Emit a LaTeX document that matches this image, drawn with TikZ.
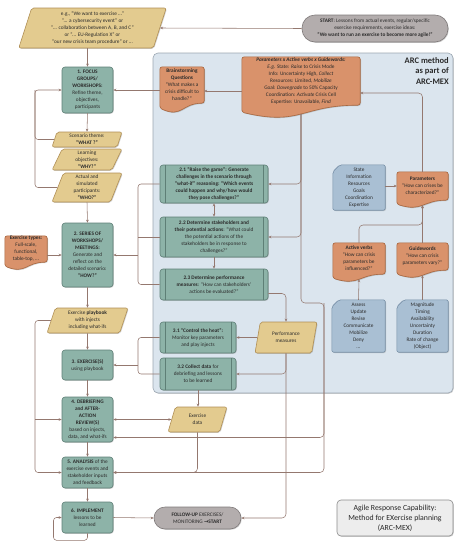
\documentclass[tikz,border=0pt]{standalone}
\usepackage{fontspec}
\setmainfont{Carlito}
\newfontfamily\dejavu{DejaVu Sans}
\usetikzlibrary{shapes.geometric,shapes.misc,arrows.meta,calc,shadows}
\definecolor{tealF}{HTML}{8DB3A8}
\definecolor{tealD}{HTML}{5E7F76}
\definecolor{tanF}{HTML}{E3CB8F}
\definecolor{tanD}{HTML}{B08F55}
\definecolor{orF}{HTML}{D9926B}
\definecolor{orD}{HTML}{A8673F}
\definecolor{blF}{HTML}{A9BFD3}
\definecolor{blD}{HTML}{7890A8}
\definecolor{arcF}{HTML}{DBE5EE}
\definecolor{arcD}{HTML}{9BA6B1}
\definecolor{gryF}{HTML}{B3ADAD}
\definecolor{gryD}{HTML}{7F7A7A}
\definecolor{lnC}{HTML}{94786F}
\definecolor{txt}{HTML}{2B2B2B}
\pgfdeclarelayer{back}
\pgfdeclarelayer{mid}
\pgfsetlayers{back,mid,main}
\newcommand\fs{\fontsize{5.3}{7}\selectfont}
\newcommand\docshape[2]{%
  \path[docsty] ($(#1.south west)+(0,#2)$) -- (#1.north west) -- (#1.north east) -- (#1.south east)
    .. controls (#1.south) and ($(#1.south)+(0,3*#2)$) .. ($(#1.south west)+(0,#2)$) -- cycle;
  \coordinate (#1-b) at ($(#1.south)+(0,1.25*#2)$);}
\newcommand\chamshape[1]{%
  \path[bluesty] ($(#1.north west)+(7,0)$) -- (#1.north east) -- (#1.south east) -- (#1.south west) -- ($(#1.north west)+(0,7)$) -- cycle;}
\tikzset{
  shd/.style={drop shadow={shadow xshift=0.8pt,shadow yshift=-0.8pt,opacity=0.3,fill=black!60}},
  base/.style={font=\fs, text=txt, align=center, inner sep=0pt},
  tealbox/.style={base, rectangle, draw=tealD, fill=tealF, rounded corners=3pt, line width=0.6pt, shd},
  procbox/.style={tealbox, path picture={\draw[tealD,line width=0.5pt]
      ([xshift=5pt]path picture bounding box.north west) -- ([xshift=5pt]path picture bounding box.south west)
      ([xshift=-5pt]path picture bounding box.north east) -- ([xshift=-5pt]path picture bounding box.south east);}},
  para/.style={base, trapezium, trapezium left angle=75, trapezium right angle=105, trapezium stretches=true,
      draw=tanD, fill=tanF, rounded corners=2pt, line width=0.6pt, shd},
  docnode/.style={base, rectangle},
  docsty/.style={fill=orF, draw=orD, line width=0.6pt, rounded corners=2.5pt, shd},
  bluesty/.style={fill=blF, draw=blD, line width=0.6pt, rounded corners=2pt, shd},
  stad/.style={base, rectangle, draw=gryD, fill=gryF, line width=0.6pt, shd},
  conn/.style={draw=lnC, line width=0.55pt},
  arr/.style={conn, -{Stealth[length=3pt,width=2.6pt]}},
  darr/.style={conn, {Stealth[length=3pt,width=2.6pt]}-{Stealth[length=3pt,width=2.6pt]}},
}
\begin{document}
\begin{tikzpicture}[x=1pt,y=-1pt]
\useasboundingbox (0,0) rectangle (458,550);
\begin{pgfonlayer}{back}
\node[draw=arcD, fill=arcF, rounded corners=5pt, line width=0.6pt, minimum width=300pt, minimum height=340pt, shd] (arc) at (303,223) {};
\end{pgfonlayer}
\node[font=\fontsize{8.5}{10.5}\selectfont\bfseries, text=txt, align=right, anchor=north east, inner sep=0pt] (arctitle) at (449,57) {ARC method\\as part of\\ARC-MEX};

% top row
\node[para, minimum width=149pt, minimum height=40pt] (top) at (92.5,28) {e.g., “We want to exercise ...”\\“... a cybersecurity event” or\\“... collaboration between A, B, and C”\\or “... EU-Regulation X” or\\“our new crisis team procedure” or ...};
\node[stad, rounded corners=13pt, minimum width=146pt, minimum height=27pt] (start) at (375,28.5) {\textbf{START}: Lessons from actual events, regular/specific\\exercise requirements, exercise ideas:\\\textbf{“We want to run an exercise to become more agile!”}};

% left column
\node[tealbox, minimum width=51pt, minimum height=46pt] (focus) at (87.5,90) {\textbf{1. FOCUS}\\\textbf{GROUPS/}\\\textbf{WORKSHOPS:}\\Refine theme,\\objectives,\\participants};
\node[para, minimum width=70pt, minimum height=15pt] (theme) at (87,139.5) {Scenario theme:\\\textbf{“WHAT ?”}};
\node[para, minimum width=70pt, minimum height=21pt] (learn) at (87,159.5) {Learning\\objectives:\\\textbf{“WHY?”}};
\node[para, minimum width=70pt, minimum height=29pt] (part) at (87,187.5) {Actual and\\simulated\\participants:\\\textbf{“WHO?”}};
\node[tealbox, minimum width=51pt, minimum height=64pt] (series) at (87.5,255) {\textbf{2. SERIES OF}\\\textbf{WORKSHOPS/}\\\textbf{MEETINGS:}\\Generate and\\reflect on the\\detailed scenario:\\\textbf{“HOW?”}};
\node[docnode, minimum width=42pt, minimum height=26pt] (extypes) at (26,249) {\textbf{Exercise types:}\\Full-scale,\\functional,\\table-top, ...};
\node[para, minimum width=81pt, minimum height=25pt] (play) at (87.5,320.5) {Exercise \textbf{playbook}\\with injects\\including what-ifs};
\node[tealbox, minimum width=51pt, minimum height=30pt] (exer) at (87.5,365) {\textbf{3. EXERCISE(S)}\\using playbook};
\node[tealbox, minimum width=51pt, minimum height=45pt] (debrief) at (87.5,419.5) {\textbf{4. DEBRIEFING}\\\textbf{and AFTER-}\\\textbf{ACTION}\\\textbf{REVIEW(S)}\\based on injects,\\data, and what-ifs};
\node[tealbox, minimum width=51pt, minimum height=31pt] (analysis) at (87.5,472.5) {\textbf{5. ANALYSIS} of the\\exercise events and\\stakeholder inputs\\and feedback};
\node[tealbox, minimum width=51pt, minimum height=31pt] (impl) at (87.5,517.5) {\textbf{6. IMPLEMENT}\\lessons to be\\learned};
\node[stad, rounded corners=11pt, minimum width=87pt, minimum height=22pt] (follow) at (197.5,518) {\textbf{FOLLOW-UP} EXERCISES/\\MONITORING \textbf{{\dejavu →}START}};
\node[base, draw=black!45, fill=black!7, rounded corners=4pt, line width=0.6pt, minimum width=116pt, minimum height=36pt, font=\fontsize{7.8}{10}\selectfont, text=black!85, shd] (titlebox) at (395,518) {Agile Response Capability:\\Method for EXercise planning\\(ARC-MEX)};

% ARC method
\node[docnode, minimum width=44pt, minimum height=36pt] (brain) at (182,85) {\textbf{Brainstorming}\\\textbf{Questions}\\“What makes a\\crisis difficult to\\handle?”};
\node[docnode, minimum width=118pt, minimum height=48pt] (bigdoc) at (301,81) {\textbf{\textit{Parameters x Active verbs x Guidewords:}}\\\textit{E.g.} State: \textit{Raise} to Crisis Mode\\Info: Uncertainty High, \textit{Collect}\\Resources: Limited, \textit{Mobilize}\\Goal: \textit{Downgrade} to 50\% Capacity\\Coordination: \textit{Activate} Crisis Cell\\Expertise: Unavailable, \textit{Find}};
\node[procbox, minimum width=108pt, minimum height=38pt] (s21) at (214,184) {\textbf{2.1 “Raise the game”: Generate}\\\textbf{challenges in the scenario through}\\\textbf{“what-if” reasoning: “Which events}\\\textbf{could happen and why/how would}\\\textbf{they pose challenges?”}};
\node[procbox, minimum width=108pt, minimum height=40pt] (s22) at (214,237) {\textbf{2.2 Determine stakeholders and}\\\textbf{their potential actions}: “What could\\the potential actions of the\\stakeholders be in response to\\challenges?”};
\node[procbox, minimum width=108pt, minimum height=31pt] (s23) at (214,284.5) {\textbf{2.3 Determine performance}\\\textbf{measures}: “How can stakeholders’\\actions be evaluated?”};
\node[procbox, minimum width=76pt, minimum height=31pt] (s31) at (198,337.5) {\textbf{3.1 “Control the heat”:}\\Monitor key parameters\\and play injects};
\node[procbox, minimum width=76pt, minimum height=32pt] (s32) at (198,374) {\textbf{3.2 Collect data} for\\debriefing and lessons\\to be learned};
\node[para, minimum width=62pt, minimum height=31pt] (perf) at (286,337.5) {Performance\\measures};
\node[para, minimum width=59pt, minimum height=25pt] (exdata) at (197.5,419.5) {Exercise\\data};
\node[docnode, minimum width=52pt, minimum height=45pt] (state) at (359,187.5) {State\\Information\\Resources\\Goals\\Coordination\\Expertise};
\node[docnode, minimum width=51pt, minimum height=28pt] (param) at (422.5,186) {\textbf{Parameters}\\“How can crises be\\characterized?”};
\node[docnode, minimum width=52pt, minimum height=31pt] (av) at (359,258.5) {\textbf{Active verbs}\\“How can crisis\\parameters be\\influenced?”};
\node[docnode, minimum width=51pt, minimum height=27pt] (gw) at (422.5,256.5) {\textbf{Guidewords}\\“How can crisis\\parameters vary?”};
\node[docnode, minimum width=53pt, minimum height=52pt] (assess) at (358.5,326) {Assess\\Update\\Revise\\Communicate\\Mobilize\\Deny\\...};
\node[docnode, minimum width=51pt, minimum height=52pt] (magn) at (422.5,326) {Magnitude\\Timing\\Availability\\Uncertainty\\Duration\\Rate of change\\(Object)};

\begin{pgfonlayer}{mid}
\docshape{brain}{5}
\docshape{bigdoc}{7}
\docshape{extypes}{4}
\docshape{param}{4}
\docshape{av}{4}
\docshape{gw}{4}
\chamshape{state}
\chamshape{assess}
\chamshape{magn}
\end{pgfonlayer}

\coordinate (lx) at (35,0);
\coordinate (bx) at (138,0);
\coordinate (rx) at (324,303);
\coordinate (yk) at (0,225);
\coordinate (yb) at (0,91);

% connectors
\draw[arr] (start.west) -- (top.east);
\draw[arr] (top.south -| focus.north) -- (focus.north);
\draw[arr] (brain.west |- focus.east) -- (focus.east);
\draw[arr] (bigdoc.west |- yb) -- (brain.east |- yb);
\draw[arr, rounded corners=4pt] (param.north) |- ([yshift=-12pt]bigdoc.east);
\draw[arr, rounded corners=4pt] (bigdoc-b) |- (s21.east);
\draw[arr, rounded corners=4pt] (bigdoc-b) |- (s22.east);
\draw[arr, rounded corners=4pt] (bigdoc-b) |- (rx) |- ([yshift=-18pt]debrief.east);
\draw[arr, rounded corners=4pt] (rx) |- (analysis.east);
\draw[darr] (s21.south) -- (s22.north);
\draw[arr] (s22.south) -- (s23.north);
\draw[arr, rounded corners=4pt] ([yshift=-9pt]s23.east) -| (perf.north);
\draw[arr] (perf.west) -- (s31.east);
\draw[arr, rounded corners=4pt] (perf.south) |- (s32.east);
\draw[arr, rounded corners=4pt] (perf.south) |- (follow.east);
\draw[conn, rounded corners=3pt] (s21.west) -- (bx |- s21.west) -- (bx |- s23.west) -- (s23.west);
\draw[conn] (s22.west) -- (bx |- s22.west);
\draw[arr] (bx |- series.east) -- (series.east);
\draw[conn, rounded corners=3pt] (s31.west) -- (bx |- s31.west) -- (bx |- s32.west) -- (s32.west);
\draw[arr] (bx |- exer.east) -- (exer.east);
\draw[arr] (focus.south) -- (theme.north);
\draw[arr] (part.south) -- (series.north);
\draw[arr] (extypes.east |- series.west) -- (series.west);
\draw[arr] (series.south) -- (play.north);
\draw[arr] (play.south) -- (exer.north);
\draw[arr] (exer.south) -- (debrief.north);
\draw[arr] (debrief.south) -- (analysis.north);
\draw[arr] (analysis.south) -- (impl.north);
\draw[arr, rounded corners=3pt] (part.west) -- (lx |- part.west) -- (lx |- focus.west) -- (focus.west);
\draw[conn, rounded corners=3pt] (theme.west) -- (lx |- theme.west) -- (lx |- focus.west);
\draw[arr, rounded corners=3pt] (play.west) -- (lx |- play.west) -- (lx |- analysis.west) -- (analysis.west);
\draw[arr] (lx |- debrief.west) -- (debrief.west);
\draw[darr] (debrief.east) -- (exdata.west);
\draw[arr] (s32.south) -- (s32.south |- exdata.north);
\draw[arr, rounded corners=4pt] (exdata.south) |- (analysis.east);
\draw[arr] (impl.east) -- (follow.west);
\draw[arr, rounded corners=3pt] (impl.south) -- ++(0,7) -- ++(-34,0) |- (impl.west);
\draw[arr] (state.east |- param.west) -- (param.west);
\draw[arr, rounded corners=4pt] (av.north) |- (yk -| gw.north) -- (param-b);
\draw[arr] (gw.north) -- (param-b);
\draw[arr] (assess.north) -- (av-b);
\draw[arr] (magn.north) -- (gw-b);
\end{tikzpicture}
\end{document}
